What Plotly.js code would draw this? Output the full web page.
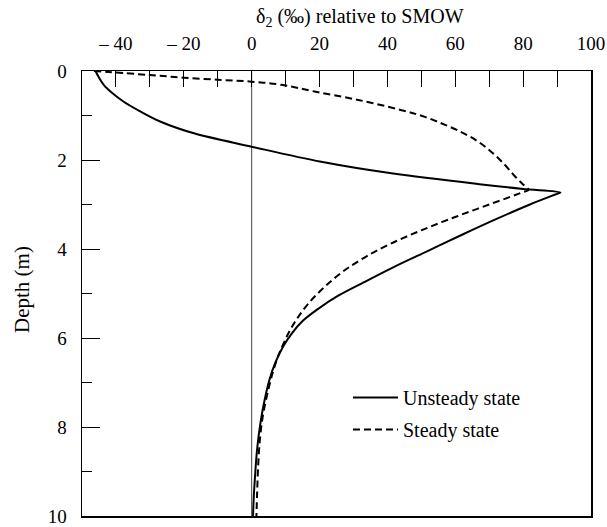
<!DOCTYPE html>
<html>
<head>
<meta charset="utf-8">
<script src="https://cdn.plot.ly/plotly-3.0.1.min.js"></script>
<style>html,body{margin:0;padding:0;background:#fff;}#chart{width:607px;height:527px;}</style>
</head>
<body>
<div id="chart"></div>
<script>
// Unsteady state profile: depth (m) and delta (per mil)
var unsteadyDepth = [0, 0.12, 0.31, 0.5, 0.69, 0.9, 1.14, 1.40, 1.70, 2.04, 2.30, 2.55, 2.65, 2.73, 2.775, 3.0, 3.33, 3.68, 4.04, 4.4, 4.75, 5.05, 5.35, 5.62, 5.9, 6.2, 6.55, 6.95, 7.4, 7.9, 8.5, 9.1, 9.6, 10];
var unsteadyDelta = [-46, -45.2, -43.6, -41, -37.7, -33, -26.8, -17, 0, 20.5, 41.2, 67.8, 80, 91, 89.5, 82, 72, 62, 52, 42, 33, 25.5, 19.5, 15, 11.8, 9.2, 7, 5.2, 3.8, 2.6, 1.6, 1.0, 0.6, 0.4];

// Steady state profile
var steadyDepth = [0, 0.09, 0.15, 0.2, 0.24, 0.31, 0.46, 0.65, 0.88, 1.03, 1.21, 1.4, 1.6, 1.84, 2.1, 2.36, 2.55, 2.67, 2.72, 3.0, 3.28, 3.58, 3.88, 4.18, 4.5, 4.85, 5.2, 5.55, 5.9, 6.28, 6.7, 7.2, 7.75, 8.3, 8.9, 9.5, 10];
var steadyDelta = [-46.5, -30, -20, -9, 0, 8.7, 18.5, 31.4, 44.2, 51, 57, 62.5, 67, 71, 74.5, 77.5, 80, 81.6, 80, 70, 60, 50, 41, 33.5, 27, 21.5, 17, 13.5, 10.8, 8.5, 6.5, 4.8, 3.3, 2.4, 1.9, 1.6, 1.4];

// Tick labels
var xTickVals = [-40, -20, 0, 20, 40, 60, 80, 100];
var xTickText = ['\u2013 40', '\u2013 20', '0', '20', '40', '60', '80', '100'];
var yTickVals = [0, 2, 4, 6, 8, 10];
var yTickText = ['0', '2', '4', '6', '8', '10'];

var seriesNames = ['Unsteady state', 'Steady state'];

var serif = "'Liberation Serif', 'Times New Roman', Times, serif";

var traces = [
  {
    x: unsteadyDelta, y: unsteadyDepth, type: 'scatter', mode: 'lines',
    name: seriesNames[0], legendgroup: 'a',
    line: {color: '#000', width: 2, shape: 'spline', smoothing: 1}
  },
  {
    x: steadyDelta, y: steadyDepth, type: 'scatter', mode: 'lines',
    name: seriesNames[1], legendgroup: 'b',
    line: {color: '#000', width: 2, dash: '7px,4px', shape: 'spline', smoothing: 1}
  }
];

var layout = {
  width: 607, height: 527,
  margin: {l: 82, r: 16, t: 71, b: 11},
  paper_bgcolor: '#fff', plot_bgcolor: '#fff',
  font: {family: serif, color: '#000', size: 19},
  showlegend: true,
  legend: {
    x: (348 - 82) / 509, y: (516 - 378) / 445, xanchor: 'left', yanchor: 'top',
    bgcolor: 'rgba(0,0,0,0)', borderwidth: 0,
    font: {family: serif, size: 20, color: '#000'},
    itemwidth: 45, tracegroupgap: 3, traceorder: 'grouped'
  },
  xaxis: {
    side: 'top', range: [-50, 100], autorange: false,
    tickvals: xTickVals, ticktext: xTickText,
    ticks: 'inside', ticklen: 16, tickwidth: 1, tickcolor: '#000',
    minor: {dtick: 10, tick0: 0, ticks: 'inside', ticklen: 16, tickwidth: 1, tickcolor: '#000', showgrid: false},
    ticklabelstandoff: 12,
    showline: true, mirror: true, linecolor: '#000', linewidth: 1.5,
    showgrid: false, zeroline: false,
    tickfont: {family: serif, size: 19, color: '#000'}
  },
  yaxis: {
    range: [10, 0], autorange: false,
    tickvals: yTickVals, ticktext: yTickText,
    ticks: 'inside', ticklen: 18, tickwidth: 1, tickcolor: '#000',
    minor: {dtick: 1, tick0: 0, ticks: 'inside', ticklen: 10, tickwidth: 1, tickcolor: '#000', showgrid: false},
    ticklabelstandoff: 10,
    showline: true, mirror: true, linecolor: '#000', linewidth: 1.5,
    showgrid: false, zeroline: false,
    tickfont: {family: serif, size: 19, color: '#000'}
  },
  shapes: [
    {type: 'line', xref: 'x', yref: 'y', x0: 0, x1: 0, y0: 0, y1: 10, line: {color: '#444', width: 1}, layer: 'below'}
  ],
  annotations: [
    {text: '\u03b4<sub>2</sub> (\u2030) relative to SMOW', xref: 'paper', yref: 'paper', x: (360 - 82) / 509, y: (516 - 17) / 445,
     xanchor: 'center', yanchor: 'middle', showarrow: false, font: {family: serif, size: 20, color: '#000'}},
    {text: 'Depth (m)', xref: 'paper', yref: 'paper', x: (22 - 82) / 509, y: (516 - 290) / 445, textangle: -90,
     xanchor: 'center', yanchor: 'middle', showarrow: false, font: {family: serif, size: 21, color: '#000'}}
  ]
};

Plotly.newPlot('chart', traces, layout, {displayModeBar: false, staticPlot: true});
</script>
</body>
</html>
